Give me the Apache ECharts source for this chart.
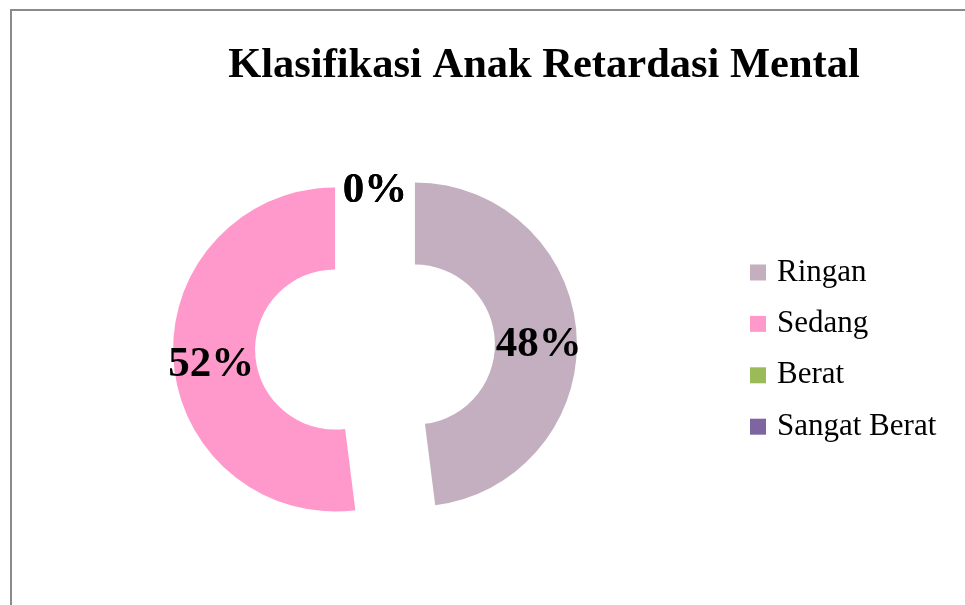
<!DOCTYPE html>
<html><head><meta charset="utf-8">
<script src="https://cdn.jsdelivr.net/npm/echarts@6/dist/echarts.min.js"></script>
<style>html,body{margin:0;padding:0;background:#fff}#c{width:965px;height:605px}</style>
</head><body><div id="c"></div>
<script>
const categories = ['Ringan', 'Sedang', 'Berat', 'Sangat Berat'];
const values = [48, 52, 0, 0];
const colors = ['#C3AFBF', '#FF99CC', '#9BBB59', '#8064A2'];
const titleText = 'Klasifikasi Anak Retardasi Mental';
const FONT = "'Liberation Serif','Times New Roman',serif";

const chart = echarts.init(document.getElementById('c'));
chart.setOption({
  animation: false,
  backgroundColor: '#fff',
  graphic: [{
    type: 'rect', shape: { x: 11, y: 10, width: 1000, height: 700 },
    style: { fill: 'none', stroke: '#8a8a8a', lineWidth: 2 }, silent: true
  }],
  title: {
    text: titleText, left: 539, top: 40, textAlign: 'center',
    textStyle: { fontFamily: FONT, fontWeight: 'bold', fontSize: 42.5, color: '#000' }
  },
  legend: {
    orient: 'vertical', left: 750, top: 257, padding: 0, itemWidth: 16, itemHeight: 16,
    itemGap: 20.4, icon: 'rect', selectedMode: false,
    textStyle: { fontFamily: FONT, fontSize: 31, color: '#000', lineHeight: 30, padding: [0, 0, 0, 6] },
    data: categories
  },
  series: [{
    type: 'pie', center: [375, 347], radius: [80, 162], startAngle: 90, clockwise: true,
    selectedMode: 'multiple', selectedOffset: 40,
    avoidLabelOverlap: false, stillShowZeroSum: true,
    emphasis: { disabled: true },
    label: {
      show: true, position: 'inside', formatter: '{d}%',
      fontFamily: FONT, fontWeight: 'bold', fontSize: 43, color: '#000'
    },
    labelLayout: function () { return { dy: 8 }; },
    labelLine: { show: false },
    data: categories.map((n, i) => ({
      name: n, value: values[i], selected: true,
      itemStyle: { color: colors[i] }
    }))
  }]
});
</script></body></html>
